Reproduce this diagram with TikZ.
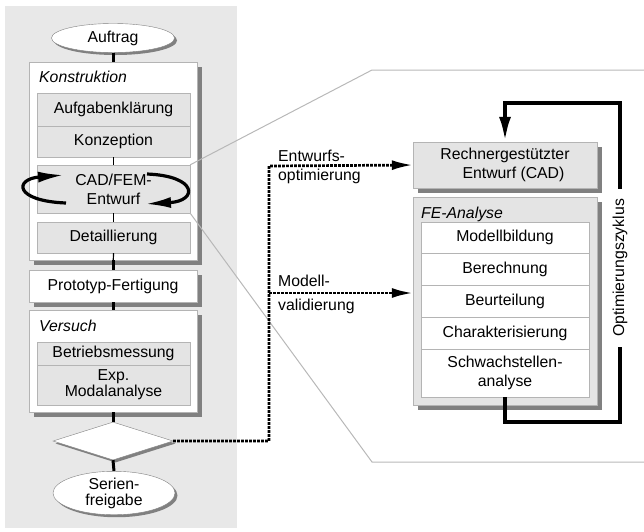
\documentclass[tikz,border=0pt]{standalone}
\usepackage{fontspec}
\setmainfont{Liberation Sans}
\usetikzlibrary{shapes.geometric,shadows,arrows.meta}
\definecolor{panelgray}{HTML}{E8E8E8}
\definecolor{boxline}{HTML}{B4B4B4}
\definecolor{stepfill}{HTML}{E4E4E4}
\definecolor{shadowgray}{HTML}{808080}
\definecolor{guideline}{HTML}{B8B8B8}
\tikzset{
  base/.style={inner sep=0pt, align=center, font=\fontsize{15.8}{19}\selectfont},
  boxshadow/.style={drop shadow={shadow xshift=5pt, shadow yshift=-5pt, fill=shadowgray, opacity=1}},
  outerbox/.style={base, draw=boxline, fill=white, boxshadow},
  graybox/.style={base, draw=boxline, fill=stepfill},
  whitebox/.style={base, draw=boxline, fill=white},
  terminal/.style={base, ellipse, draw=gray, fill=white,
    drop shadow={shadow xshift=2.5pt, shadow yshift=-2.5pt, fill=shadowgray, opacity=1}},
  decision/.style={base, diamond, aspect=3.2, draw=gray, fill=white,
    drop shadow={shadow xshift=2.5pt, shadow yshift=-2.5pt, fill=shadowgray, opacity=1}},
  heavylink/.style={line width=3pt},
  thinlink/.style={line width=1.2pt},
  dotlink/.style={line width=2.7pt, dash pattern=on 2.7pt off 1.3pt,
    -{Latex[length=21pt,width=10pt]}},
  looplink/.style={line width=4pt, -{Latex[length=25pt,width=12pt]}},
  cycle arrow/.style={line width=3.2pt, -{Latex[length=26pt,width=11pt]}},
  label/.style={base, align=left, anchor=west},
}
\begin{document}
\begin{tikzpicture}[x=1pt,y=-1pt]
\useasboundingbox (0,0) rectangle (644,531);

% left process column background
\fill[panelgray] (5,6) rectangle (237,528);

% process column
\node[terminal, minimum width=123pt, minimum height=29pt] (auftrag) at (113,38) {Auftrag};

\node[outerbox, minimum width=168pt, minimum height=198pt] (konstr) at (113,161) {};
\node[base, anchor=west, font=\fontsize{15.8}{19}\selectfont\itshape] (konstrlabel) at (39,77) {Konstruktion};
\node[graybox, minimum width=153pt, minimum height=33pt] (aufg) at (113.5,109.5) {Aufgabenklärung};
\node[graybox, minimum width=153pt, minimum height=31pt] (konz) at (113.5,141.5) {Konzeption};
\node[graybox, minimum width=153pt, minimum height=48pt] (cad) at (113.5,189) {CAD/FEM-\\Entwurf};
\node[graybox, minimum width=153pt, minimum height=31pt] (detail) at (113.5,237.5) {Detaillierung};

\node[outerbox, minimum width=168pt, minimum height=32pt] (proto) at (113,286) {Prototyp-Fertigung};

\node[outerbox, minimum width=168pt, minimum height=102pt] (versuch) at (113,361) {};
\node[base, anchor=west, font=\fontsize{15.8}{19}\selectfont\itshape] (versuchlabel) at (39,326) {Versuch};
\node[graybox, minimum width=153pt, minimum height=23pt] (betrieb) at (113.5,353.5) {Betriebsmessung};
\node[graybox, minimum width=153pt, minimum height=40pt, font=\fontsize{15.8}{16}\selectfont] (modal) at (113.5,385) {Exp.\\Modalanalyse};

\node[decision, minimum width=120pt, minimum height=38pt] (dia) at (113,441) {};
\node[terminal, minimum width=122pt, minimum height=37pt, font=\fontsize{15.8}{16}\selectfont] (serien) at (114,493) {Serien-\\freigabe};

% links along the column
\draw[heavylink] (auftrag.south) -- (konstr.north);
\draw[thinlink] (konz.south) -- (cad.north);
\draw[thinlink] (cad.south) -- (detail.north);
\draw[thinlink] (detail.south) -- (proto.north);
\draw[heavylink] (konstr.south) -- (proto.north);
\draw[heavylink] (proto.south) -- (versuch.north);
\draw[heavylink] (versuch.south) -- (dia.north);
\draw[heavylink] (dia.south) -- (serien.north);

% iteration arrows around the CAD/FEM step
\coordinate (la) at (66,203);
\coordinate (lb) at (64,175);
\coordinate (ra) at (147,174);
\coordinate (rb) at (145,204);
\draw[cycle arrow] (la) .. controls (14,201) and (14,179) .. (lb);
\draw[cycle arrow] (ra) .. controls (198,176) and (198,201) .. (rb);

% magnifier lines from the CAD/FEM step
\coordinate (gt) at (372,70);
\coordinate (gtr) at (644,70);
\coordinate (gb) at (372,462);
\coordinate (gbr) at (644,462);
\draw[guideline, line width=1pt] (cad.north east) -- (gt) -- (gtr);
\draw[guideline, line width=1pt] (cad.south east) -- (gb) -- (gbr);

% detail: design and analysis
\node[base, draw=boxline, fill=stepfill, boxshadow, minimum width=184pt, minimum height=46pt] (rechner) at (505,165) {Rechnergestützter\\\hspace*{17pt}Entwurf (CAD)};
\node[base, draw=boxline, fill=stepfill, boxshadow, minimum width=184pt, minimum height=208pt] (fe) at (505,301) {};
\node[base, anchor=west, font=\fontsize{15.8}{19}\selectfont\itshape] (felabel) at (421,214) {FE-Analyse};
\node[whitebox, minimum width=168pt, minimum height=31pt] (modell) at (505,237.5) {Modellbildung};
\node[whitebox, minimum width=168pt, minimum height=32pt] (berech) at (505,269) {Berechnung};
\node[whitebox, minimum width=168pt, minimum height=32pt] (beurt) at (505,301) {Beurteilung};
\node[whitebox, minimum width=168pt, minimum height=32pt] (charak) at (505,333) {Charakterisierung};
\node[whitebox, minimum width=168pt, minimum height=48pt] (schwach) at (505,373) {Schwachstellen-\\analyse};

% dotted feedback from the decision
\coordinate (vtop) at (269,166);
\coordinate (vmid) at (269,293);
\draw[dotlink] (dia.east) -| (vtop) -- (rechner.west);
\draw[dotlink] (vmid) -- (vmid -| fe.west);
\node[label] (entw) at (278,167) {Entwurfs-\\optimierung};
\node[label, font=\fontsize{15.8}{24}\selectfont] (modval) at (278,294) {Modell-\\validierung};

% optimisation loop
\coordinate (loopb) at (620,422);
\coordinate (loopt) at (620,103);
\draw[looplink] (schwach.south) |- (loopb) -- (loopt) -| (rechner.north);
\node[base, rotate=90, fill=white, inner xsep=10pt, inner ysep=3pt] (zyklus) at (620,268) {Optimierungszyklus};
\end{tikzpicture}
\end{document}
